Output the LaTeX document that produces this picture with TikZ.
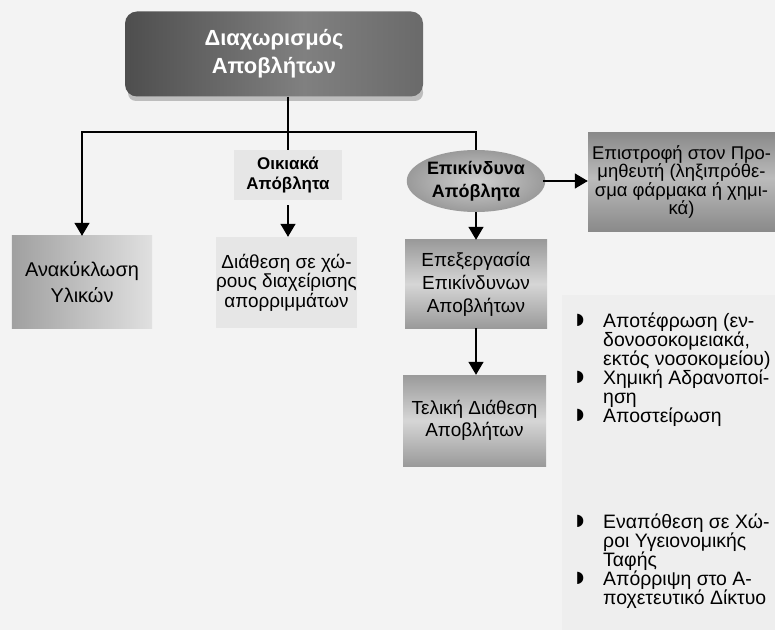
\documentclass[tikz,border=0pt]{standalone}
\usepackage{fontspec}
\setmainfont{Liberation Sans}
\newfontfamily\symfont{DejaVu Sans}
\usetikzlibrary{arrows.meta,shapes.geometric,calc}
\definecolor{bgc}{HTML}{F3F3F3}
\definecolor{panel}{HTML}{EEEEEE}
\definecolor{shadowc}{HTML}{BDBDBD}
\definecolor{tdark}{HTML}{4E4E4E}
\definecolor{tmid}{HTML}{808080}
\definecolor{tright}{HTML}{6A6A6A}
\definecolor{lightc}{HTML}{E6E6E6}
\definecolor{boxedge}{HTML}{9A9A9A}
\definecolor{boxmid}{HTML}{D6D6D6}
\definecolor{retedge}{HTML}{8A8A8A}
\definecolor{retmid}{HTML}{BBBBBB}
\definecolor{anaL}{HTML}{A0A0A0}
\definecolor{anaR}{HTML}{E0E0E0}
\definecolor{ellin}{HTML}{D0D0D0}
\definecolor{ellout}{HTML}{9A9A9A}
\pgfdeclareverticalshading{boxshade}{100bp}{color(0bp)=(boxedge); color(25bp)=(boxedge);
  color(50bp)=(boxmid); color(75bp)=(boxedge); color(100bp)=(boxedge)}
\pgfdeclareverticalshading{retshade}{100bp}{color(0bp)=(retedge); color(25bp)=(retedge);
  color(52bp)=(retmid); color(75bp)=(retedge); color(100bp)=(retedge)}
\pgfdeclarehorizontalshading{titleshade}{100bp}{color(0bp)=(tdark); color(25bp)=(tdark);
  color(55bp)=(tmid); color(75bp)=(tright); color(100bp)=(tright)}
\begin{document}
\begin{tikzpicture}[x=1bp,y=-1bp,
  line/.style={line width=1.4bp,black},
  arr/.style={line,-{Triangle[width=15bp,length=13bp]}},
  titlebox/.style={rounded corners=12bp,minimum width=298bp,minimum height=85bp,
    shading=titleshade,text=white,
    font=\bfseries\fontsize{22}{28}\selectfont,align=center,inner sep=0},
  lightbox/.style={fill=lightc,align=center,inner sep=0,
    font=\fontsize{19}{19.5}\selectfont},
  vbox/.style={shading=boxshade,
    align=center,inner sep=0,font=\fontsize{19}{23}\selectfont},
  retbox/.style={shading=retshade,
    align=center,inner sep=0,font=\fontsize{18.5}{18.5}\selectfont},
  anabox/.style={left color=anaL,right color=anaR,
    align=center,inner sep=0,font=\fontsize{20}{26}\selectfont},
  ellbox/.style={ellipse,inner color=ellin,outer color=ellout,
    align=center,inner sep=0,font=\bfseries\fontsize{18}{23}\selectfont},
  txt/.style={font=\fontsize{19.5}{19.5}\selectfont,anchor=base west,inner sep=0},
  bul/.style={font=\symfont\fontsize{16}{16}\selectfont,anchor=center,inner sep=0},
  ]
\fill[bgc] (0,0) rectangle (775,630);
\useasboundingbox (0,0) rectangle (775,630);
\fill[panel] (562,295) rectangle (775,630);

% title
\fill[shadowc,rounded corners=8bp] (128,84) rectangle (423,101);
\node[titlebox] (title) at (274,54) {Διαχωρισμός\\Αποβλήτων};

% second level
\node[lightbox,minimum width=108bp,minimum height=50bp,
  font=\bfseries\fontsize{17}{20.5}\selectfont] (oik) at (288,175) {Οικιακά\\Απόβλητα};
\node[ellbox,minimum width=136bp,minimum height=62bp] (ell) at (476,181) {Επικίνδυνα\\Απόβλητα};
\node[retbox,minimum width=187bp,minimum height=98bp] (ret) at (681.5,182)
  {Επιστροφή στον Προ-\\μηθευτή (ληξιπρόθε-\\σμα φάρμακα ή χημι-\\κά)};

% third level
\node[anabox,minimum width=140bp,minimum height=92bp] (ana) at (82,282) {Ανακύκλωση\\Υλικών};
\node[lightbox,minimum width=137bp,minimum height=91bp] (dia) at (286.5,282.5)
  {Διάθεση σε χώ-\\ρους διαχείρισης\\απορριμμάτων};
\node[vbox,minimum width=142bp,minimum height=88bp] (epe) at (476,284)
  {Επεξεργασία\\Επικίνδυνων\\Αποβλήτων};
\node[vbox,minimum width=143bp,minimum height=91bp,
  font=\fontsize{19}{22}\selectfont] (tel) at (474.5,420.5)
  {Τελική Διάθεση\\Αποβλήτων};

% connectors
\coordinate (j) at (288,132);
\draw[line] (title.south -| j) -- (oik.north);
\draw[arr] (j) -| (ana.north);
\draw[line] (j) -| (ell.north);
\draw[arr,shorten <=5bp] (oik.south) -- (oik.south |- dia.north);
\draw[arr] (ell.south) -- (ell.south |- epe.north);
\draw[arr,shorten <=-2bp] (ell.east) -- (ell.east -| ret.west);
\draw[arr] (epe.south) -- (epe.south |- tel.north);

% bullet list 1
\node[bul] (b1) at (580,320) {◗};
\node[txt] (l1) at (603,327) {Αποτέφρωση (εν-};
\node[txt] (l2) at (603,346) {δονοσοκομειακά,};
\node[txt] (l3) at (603,365) {εκτός νοσοκομείου)};
\node[bul] (b2) at (580,377) {◗};
\node[txt] (l4) at (603,384) {Χημική Αδρανοποί-};
\node[txt] (l5) at (603,403) {ηση};
\node[bul] (b3) at (580,415) {◗};
\node[txt] (l6) at (603,422) {Αποστείρωση};

% bullet list 2
\node[bul] (b4) at (580,521) {◗};
\node[txt] (m1) at (603,528) {Εναπόθεση σε Χώ-};
\node[txt] (m2) at (603,547) {ροι Υγειονομικής};
\node[txt] (m3) at (603,566) {Ταφής};
\node[bul] (b5) at (580,578) {◗};
\node[txt] (m4) at (603,585) {Απόρριψη στο Α-};
\node[txt] (m5) at (603,604) {ποχετευτικό Δίκτυο};
\end{tikzpicture}
\end{document}
